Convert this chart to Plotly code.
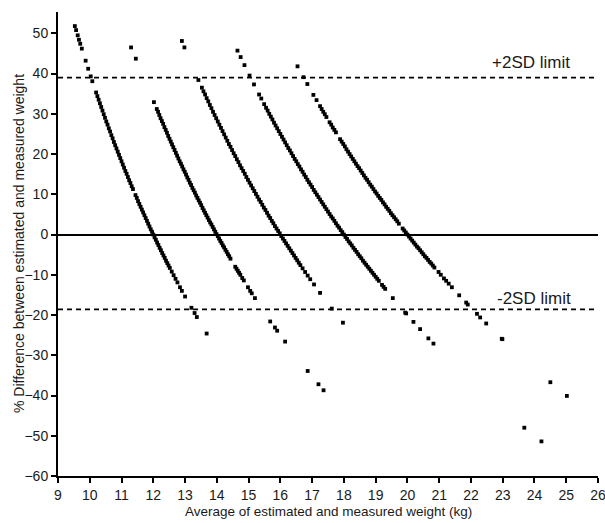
import plotly.graph_objects as go

# ---- data (average weight kg, % difference) ----
# points lying on the "estimated weight = 12 kg" band
avg_e12 = [9.53, 9.57, 9.62, 9.66, 9.70, 9.75, 9.87, 9.95, 10.03, 10.08,
           10.20, 10.24, 10.28, 10.32, 10.36, 10.40, 10.44, 10.48, 10.52, 10.56,
           10.60, 10.64, 10.68, 10.72, 10.76, 10.80, 10.84, 10.88, 10.92, 10.96,
           11.00, 11.04, 11.08, 11.12, 11.16, 11.20, 11.24, 11.28, 11.32, 11.36,
           11.44, 11.48, 11.52, 11.56, 11.60, 11.64, 11.68, 11.72, 11.76, 11.80,
           11.84, 11.88, 11.92, 11.96, 12.00, 12.04, 12.08, 12.12, 12.16, 12.20,
           12.24, 12.28, 12.32, 12.36, 12.40, 12.44, 12.48, 12.52,
           12.58, 12.64, 12.70, 12.76, 12.84, 12.90, 13.00,
           13.20, 13.30, 13.37, 13.68]
diff_e12 = [51.8, 50.8, 49.5, 48.4, 47.4, 46.2, 43.2, 41.2, 39.3, 38.1,
            35.3, 34.4, 33.5, 32.6, 31.7, 30.8, 29.9, 29.0, 28.1, 27.3,
            26.4, 25.6, 24.7, 23.9, 23.0, 22.2, 21.4, 20.6, 19.8, 19.0,
            18.2, 17.4, 16.6, 15.8, 15.1, 14.3, 13.5, 12.8, 12.0, 11.3,
            9.8, 9.1, 8.3, 7.6, 6.9, 6.2, 5.5, 4.8, 4.1, 3.4,
            2.7, 2.0, 1.3, 0.7, 0.0, -0.7, -1.3, -2.0, -2.6, -3.3,
            -3.9, -4.6, -5.2, -5.8, -6.5, -7.1, -7.7, -8.3,
            -9.2, -10.1, -11.0, -11.9, -13.1, -14.0, -15.4,
            -18.2, -19.5, -20.5, -24.6]

# "estimated weight = 14 kg" band
avg_e14 = [11.30, 11.45, 12.02,
           12.11, 12.15, 12.19, 12.23, 12.27, 12.31, 12.35, 12.39, 12.43, 12.47,
           12.51, 12.55, 12.59, 12.63, 12.67, 12.71, 12.75, 12.79, 12.83, 12.87,
           12.91, 12.95, 12.99, 13.03, 13.07, 13.11, 13.15, 13.19, 13.23, 13.27,
           13.31, 13.35, 13.39, 13.43, 13.47, 13.51, 13.55, 13.59, 13.63, 13.67,
           13.71, 13.75, 13.79, 13.83, 13.87, 13.91, 13.95, 13.99, 14.03, 14.07,
           14.11, 14.15, 14.19, 14.23, 14.27, 14.31, 14.35, 14.39, 14.43,
           14.58, 14.62, 14.66, 14.70, 14.74, 14.80, 14.85,
           14.98, 15.05, 15.10, 15.20,
           15.68, 15.83, 15.90, 16.15, 16.86, 17.20, 17.36]
diff_e14 = [46.5, 43.7, 32.9,
            31.2, 30.5, 29.7, 28.9, 28.2, 27.5, 26.7, 26.0, 25.3, 24.5,
            23.8, 23.1, 22.4, 21.7, 21.0, 20.3, 19.6, 18.9, 18.2, 17.6,
            16.9, 16.2, 15.6, 14.9, 14.2, 13.6, 12.9, 12.3, 11.6, 11.0,
            10.4, 9.7, 9.1, 8.5, 7.9, 7.3, 6.6, 6.0, 5.4, 4.8,
            4.2, 3.6, 3.0, 2.5, 1.9, 1.3, 0.7, 0.1, -0.4, -1.0,
            -1.6, -2.1, -2.7, -3.2, -3.8, -4.3, -4.9, -5.4, -6.0,
            -8.0, -8.5, -9.0, -9.5, -10.0, -10.8, -11.4,
            -13.1, -14.0, -14.6, -15.8,
            -21.6, -23.1, -23.9, -26.6, -33.9, -37.2, -38.7]

# "estimated weight = 16 kg" band
avg_e16 = [12.90, 12.98, 13.42,
           13.53, 13.58, 13.63, 13.68, 13.73, 13.78, 13.83, 13.88, 13.93, 13.98,
           14.03, 14.08, 14.13, 14.18, 14.23, 14.28, 14.33, 14.38, 14.43, 14.48,
           14.53, 14.58, 14.63, 14.68, 14.73, 14.78, 14.83, 14.88, 14.93, 14.98,
           15.03, 15.08, 15.13, 15.18, 15.23, 15.28, 15.33, 15.38, 15.43, 15.48,
           15.53, 15.58, 15.63, 15.68, 15.73, 15.78, 15.83, 15.88, 15.93, 15.98,
           16.03, 16.08, 16.13, 16.18, 16.23, 16.28, 16.33, 16.38, 16.43, 16.48,
           16.53, 16.58, 16.63,
           16.70, 16.78, 16.86, 16.94, 17.06, 17.25, 17.62, 17.97]
diff_e16 = [48.1, 46.5, 38.4,
            36.5, 35.6, 34.8, 33.9, 33.1, 32.2, 31.4, 30.5, 29.7, 28.9,
            28.1, 27.3, 26.5, 25.7, 24.9, 24.1, 23.3, 22.5, 21.8, 21.0,
            20.2, 19.5, 18.7, 18.0, 17.2, 16.5, 15.8, 15.1, 14.3, 13.6,
            12.9, 12.2, 11.5, 10.8, 10.1, 9.4, 8.7, 8.1, 7.4, 6.7,
            6.1, 5.4, 4.7, 4.1, 3.4, 2.8, 2.1, 1.5, 0.9, 0.3,
            -0.4, -1.0, -1.6, -2.2, -2.8, -3.4, -4.0, -4.6, -5.2, -5.8,
            -6.4, -7.0, -7.6,
            -8.4, -9.3, -10.2, -11.1, -12.4, -14.5, -18.4, -21.9]

# "estimated weight = 18 kg" band
avg_e18 = [14.65, 14.75, 14.87, 15.03, 15.17, 15.33, 15.40, 15.49,
           15.55, 15.60, 15.65, 15.70, 15.75, 15.80, 15.85, 15.90, 15.95, 16.00,
           16.05, 16.10, 16.15, 16.20, 16.25, 16.30, 16.35, 16.40, 16.45, 16.50,
           16.55, 16.60, 16.65, 16.70, 16.75, 16.80, 16.85, 16.90, 16.95, 17.00,
           17.05, 17.10, 17.15, 17.20, 17.25, 17.30, 17.35, 17.40, 17.45, 17.50,
           17.55, 17.60, 17.65, 17.70, 17.75, 17.80, 17.85, 17.90, 17.95, 18.00,
           18.05, 18.10, 18.15, 18.20, 18.25, 18.30, 18.35, 18.40, 18.45, 18.50,
           18.55, 18.60, 18.65, 18.70, 18.75, 18.80, 18.85, 18.90, 18.95, 19.00,
           19.05, 19.10,
           19.20, 19.25, 19.30, 19.54, 19.93, 19.96, 20.19, 20.40, 20.66, 20.82,
           23.68, 24.22]
diff_e18 = [45.7, 44.1, 42.1, 39.5, 37.3, 34.8, 33.8, 32.4,
            31.5, 30.8, 30.0, 29.3, 28.6, 27.8, 27.1, 26.4, 25.7, 25.0,
            24.3, 23.6, 22.9, 22.2, 21.5, 20.9, 20.2, 19.5, 18.8, 18.2,
            17.5, 16.9, 16.2, 15.6, 14.9, 14.3, 13.6, 13.0, 12.4, 11.8,
            11.1, 10.5, 9.9, 9.3, 8.7, 8.1, 7.5, 6.9, 6.3, 5.7,
            5.1, 4.5, 4.0, 3.4, 2.8, 2.2, 1.7, 1.1, 0.6, 0.0,
            -0.6, -1.1, -1.7, -2.2, -2.7, -3.3, -3.8, -4.3, -4.9, -5.4,
            -5.9, -6.5, -7.0, -7.5, -8.0, -8.5, -9.0, -9.5, -10.0, -10.5,
            -11.0, -11.5,
            -12.5, -13.0, -13.5, -15.8, -19.4, -19.6, -21.7, -23.5, -25.8, -27.1,
            -48.0, -51.4]

# "estimated weight = 20 kg" band
avg_e20 = [16.54, 16.73, 16.85, 17.04, 17.14,
           17.25, 17.30, 17.35, 17.40, 17.45, 17.55, 17.60, 17.65, 17.70, 17.75,
           17.88, 17.93, 17.98, 18.03, 18.08, 18.13, 18.18, 18.23, 18.28, 18.33,
           18.38, 18.43, 18.48, 18.53, 18.58, 18.63, 18.68, 18.73, 18.78, 18.83,
           18.88, 18.93, 18.98, 19.03, 19.08, 19.13, 19.18, 19.23, 19.28, 19.33,
           19.38, 19.43, 19.48, 19.53, 19.58, 19.63, 19.68, 19.73,
           19.85, 19.90, 19.95, 20.00, 20.05, 20.10, 20.15, 20.20, 20.25, 20.30,
           20.35, 20.40, 20.45, 20.50, 20.55, 20.60, 20.65, 20.70, 20.75, 20.80,
           20.85,
           20.98, 21.05, 21.15, 21.22, 21.30, 21.40, 21.63, 21.85, 21.90, 22.19,
           22.29, 22.48, 22.97, 22.99, 24.50, 25.02]
diff_e20 = [41.8, 39.1, 37.4, 34.7, 33.4,
            31.9, 31.2, 30.5, 29.9, 29.2, 27.9, 27.3, 26.6, 26.0, 25.4,
            23.7, 23.1, 22.5, 21.9, 21.2, 20.6, 20.0, 19.4, 18.8, 18.2,
            17.6, 17.0, 16.5, 15.9, 15.3, 14.7, 14.1, 13.6, 13.0, 12.4,
            11.9, 11.3, 10.7, 10.2, 9.6, 9.1, 8.6, 8.0, 7.5, 6.9,
            6.4, 5.9, 5.3, 4.8, 4.3, 3.8, 3.3, 2.7,
            1.5, 1.0, 0.5, 0.0, -0.5, -1.0, -1.5, -2.0, -2.5, -3.0,
            -3.4, -3.9, -4.4, -4.9, -5.4, -5.8, -6.3, -6.8, -7.2, -7.7,
            -8.2,
            -9.3, -10.0, -10.9, -11.5, -12.2, -13.1, -15.1, -16.9, -17.4, -19.7,
            -20.6, -22.1, -25.9, -26.0, -36.7, -40.1]

upper_limit = 39.0
lower_limit = -18.6
limit_labels = ["+2SD limit", "-2SD limit"]

x_ticks = list(range(9, 27))
y_ticks = list(range(-60, 51, 10))

FONT = "Arial, 'Liberation Sans', Helvetica, sans-serif"
TXT = "#1a1a1a"

fig = go.Figure()
for xs, ys in [(avg_e12, diff_e12), (avg_e14, diff_e14), (avg_e16, diff_e16),
               (avg_e18, diff_e18), (avg_e20, diff_e20)]:
    fig.add_trace(go.Scatter(
        x=xs, y=ys, mode="markers",
        marker=dict(symbol="square", size=3.8, color="black", line=dict(width=0)),
        showlegend=False, hoverinfo="x+y"))

for lim in (upper_limit, lower_limit):
    fig.add_shape(type="line", xref="paper", x0=0, x1=1, yref="y", y0=lim, y1=lim,
                  line=dict(color="black", width=1.6, dash="5px,4px"))

fig.add_annotation(x=23.9, y=42.8, text=limit_labels[0], showarrow=False,
                   font=dict(family=FONT, size=17, color=TXT))
fig.add_annotation(x=24.0, y=-15.9, text=limit_labels[1], showarrow=False,
                   font=dict(family=FONT, size=17, color=TXT))

fig.add_annotation(xref="paper", yref="paper", x=0.5, y=0, yshift=-35,
                   text="Average of estimated and measured weight (kg)",
                   showarrow=False, yanchor="middle",
                   font=dict(family=FONT, size=13.5, color=TXT))
fig.add_annotation(xref="paper", yref="paper", x=0, xshift=-39, y=0.5,
                   text="% Difference between estimated and measured weight",
                   showarrow=False, textangle=-90, xanchor="center",
                   font=dict(family=FONT, size=14, color=TXT))

fig.update_xaxes(range=[9, 26], tickvals=x_ticks, ticks="outside", ticklen=5,
                 tickwidth=2, tickcolor="black", showline=True, linewidth=2,
                 linecolor="black", showgrid=False, zeroline=False,
                 ticklabeloverflow="allow", automargin=False,
                 tickfont=dict(family=FONT, size=14, color=TXT))
fig.update_yaxes(range=[-60, 55.3], tickvals=y_ticks, ticks="outside", ticklen=5,
                 tickwidth=2, tickcolor="black", showline=True, linewidth=2,
                 linecolor="black", showgrid=False, zeroline=True,
                 zerolinecolor="black", zerolinewidth=2, automargin=False,
                 tickfont=dict(family=FONT, size=14, color=TXT))

fig.update_layout(width=605, height=523, margin=dict(l=58, r=7, t=12, b=47),
                  paper_bgcolor="white", plot_bgcolor="white")

fig.write_html("out.html", config={"displayModeBar": False},
               post_script="document.body.style.margin='0';"
                           "document.body.style.overflow='hidden';")
